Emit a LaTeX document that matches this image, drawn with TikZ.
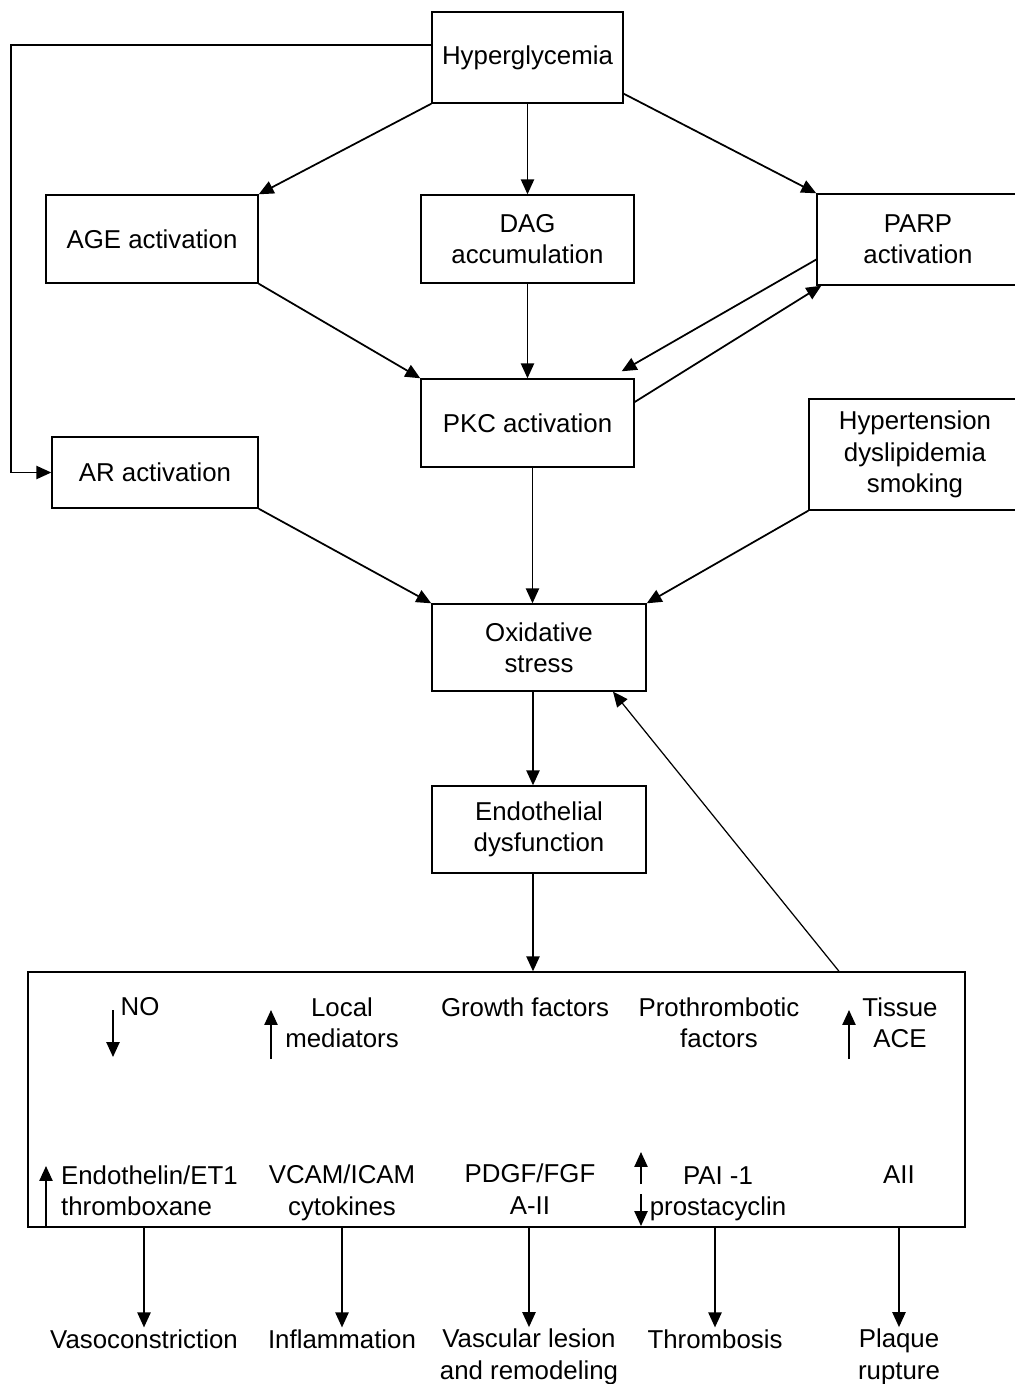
\documentclass[tikz,border=0pt]{standalone}
\usepackage{fontspec}
\setmainfont{Liberation Sans}
\usetikzlibrary{arrows.meta,calc}

\tikzset{
  box/.style={draw, line width=0.8pt, align=center, inner sep=0pt},
  lbl/.style={align=center, inner sep=1pt},
  arr/.style={-{Triangle[length=8.5pt,width=7.5pt]}, line width=1pt},
  thinarr/.style={-{Triangle[length=8.5pt,width=7.5pt]}, line width=0.7pt}
}

\begin{document}
\begin{tikzpicture}[x=0.2mm,y=-0.2mm,font=\fontsize{14.7}{17.9}\selectfont]
    \useasboundingbox (0,0) rectangle (1014,1384);
    % upper pathway
    \node[box,minimum width=38.2mm,minimum height=18.2mm] (hyper) at (527.5,57.5) {Hyperglycemia};
    \node[box,minimum width=42.4mm,minimum height=17.6mm] (age) at (152,239) {AGE activation};
    \node[box,minimum width=42.6mm,minimum height=17.6mm] (dag) at (527.5,239) {DAG\\accumulation};
    \node[box,minimum width=40.4mm,minimum height=18.2mm] (parp) at (918,239.5) {PARP\\activation};
    \node[box,minimum width=42.6mm,minimum height=17.6mm] (pkc) at (527.5,423) {PKC activation};
    \node[box,minimum width=41.2mm,minimum height=14.2mm] (ar) at (155,472.5) {AR activation};
    \node[box,minimum width=42.4mm,minimum height=22.2mm] (hyp) at (915,454.5) {Hypertension\\dyslipidemia\\smoking};
    \node[box,minimum width=42.8mm,minimum height=17.4mm] (ox) at (539,647.5) {Oxidative\\stress};
    \node[box,minimum width=42.8mm,minimum height=17.4mm] (endo) at (539,829.5) {Endothelial\\dysfunction};
    \node[box,minimum width=187.4mm,minimum height=51mm] (big) at (496.5,1099.5) {};

    \coordinate (loop) at (11,45);
    \draw[arr] (loop -| hyper.west) -- (loop) |- (ar.west);
    \draw[arr] (hyper.south west) -- (age.north east);
    \draw[arr] (hyper.south) -- (dag.north);
    \draw[arr] ([yshift=2mm]hyper.south east) -- (parp.north west);
    \draw[arr] (age.south east) -- (pkc.north west);
    \draw[arr] (dag.south) -- (pkc.north);
    \draw[arr] ([yshift=-4mm]parp.west) -- ([xshift=-2.6mm,yshift=1.4mm]pkc.north east);
    \draw[arr] ([yshift=4.2mm]pkc.east) -- ([xshift=1mm]parp.south west);
    \draw[arr] (ar.south east) -- (ox.north west);
    \draw[arr] ([xshift=1mm]pkc.south) -- ([xshift=1mm]pkc.south |- ox.north);
    \draw[arr] (hyp.south west) -- (ox.north east);
    \draw[arr] ([xshift=-1.2mm]ox.south) -- ([xshift=-1.2mm]endo.north);
    \draw[arr] ([xshift=-1.2mm]endo.south) -- ([xshift=-1.2mm]endo.south |- big.north);
    \draw[thinarr] ([xshift=68.5mm]big.north) -- ([xshift=14.8mm]ox.south);

    % effects inside the box
    \node[lbl] (no) at (140,1007) {NO};
    \node[lbl] (loc) at (342,1022.5) {Local\\mediators};
    \node[lbl] (grow) at (525,1007) {Growth factors};
    \node[lbl] (proth) at (719,1022.5) {Prothrombotic\\factors};
    \node[lbl] (tis) at (900,1022.5) {Tissue\\ACE};
    \node[lbl,align=left,anchor=west] (endt) at (59,1191) {Endothelin/ET1\\thromboxane};
    \node[lbl] (vcam) at (342,1193) {VCAM/ICAM\\cytokines};
    \node[lbl] (pdgf) at (530,1189) {PDGF/FGF\\A-II};
    \node[lbl] (pai) at (718,1194) {PAI -1\\prostacyclin};
    \node[lbl] (aii) at (899,1175) {AII};
    \draw[arr] (113,1010) -- (113,1057);
    \draw[arr] (271,1059) -- (271,1010);
    \draw[arr] (849,1059) -- (849,1010);
    \draw[arr] (46,1227) -- (46,1166);
    \draw[arr] (641,1184) -- (641,1152);
    \draw[arr] (641,1194) -- (641,1226);

    % outcomes
    \node[lbl] (vaso) at (144,1339) {Vasoconstriction};
    \node[lbl] (infl) at (342,1339) {Inflammation};
    \node[lbl] (vasc) at (529,1357) {Vascular lesion\\and remodeling};
    \node[lbl] (thro) at (715,1339) {Thrombosis};
    \node[lbl] (plaq) at (899,1357) {Plaque\\rupture};
    \foreach \n in {vaso,infl,vasc,thro,plaq}
        \draw[arr] (\n.north |- big.south) -- (\n.north);
\end{tikzpicture}
\end{document}
